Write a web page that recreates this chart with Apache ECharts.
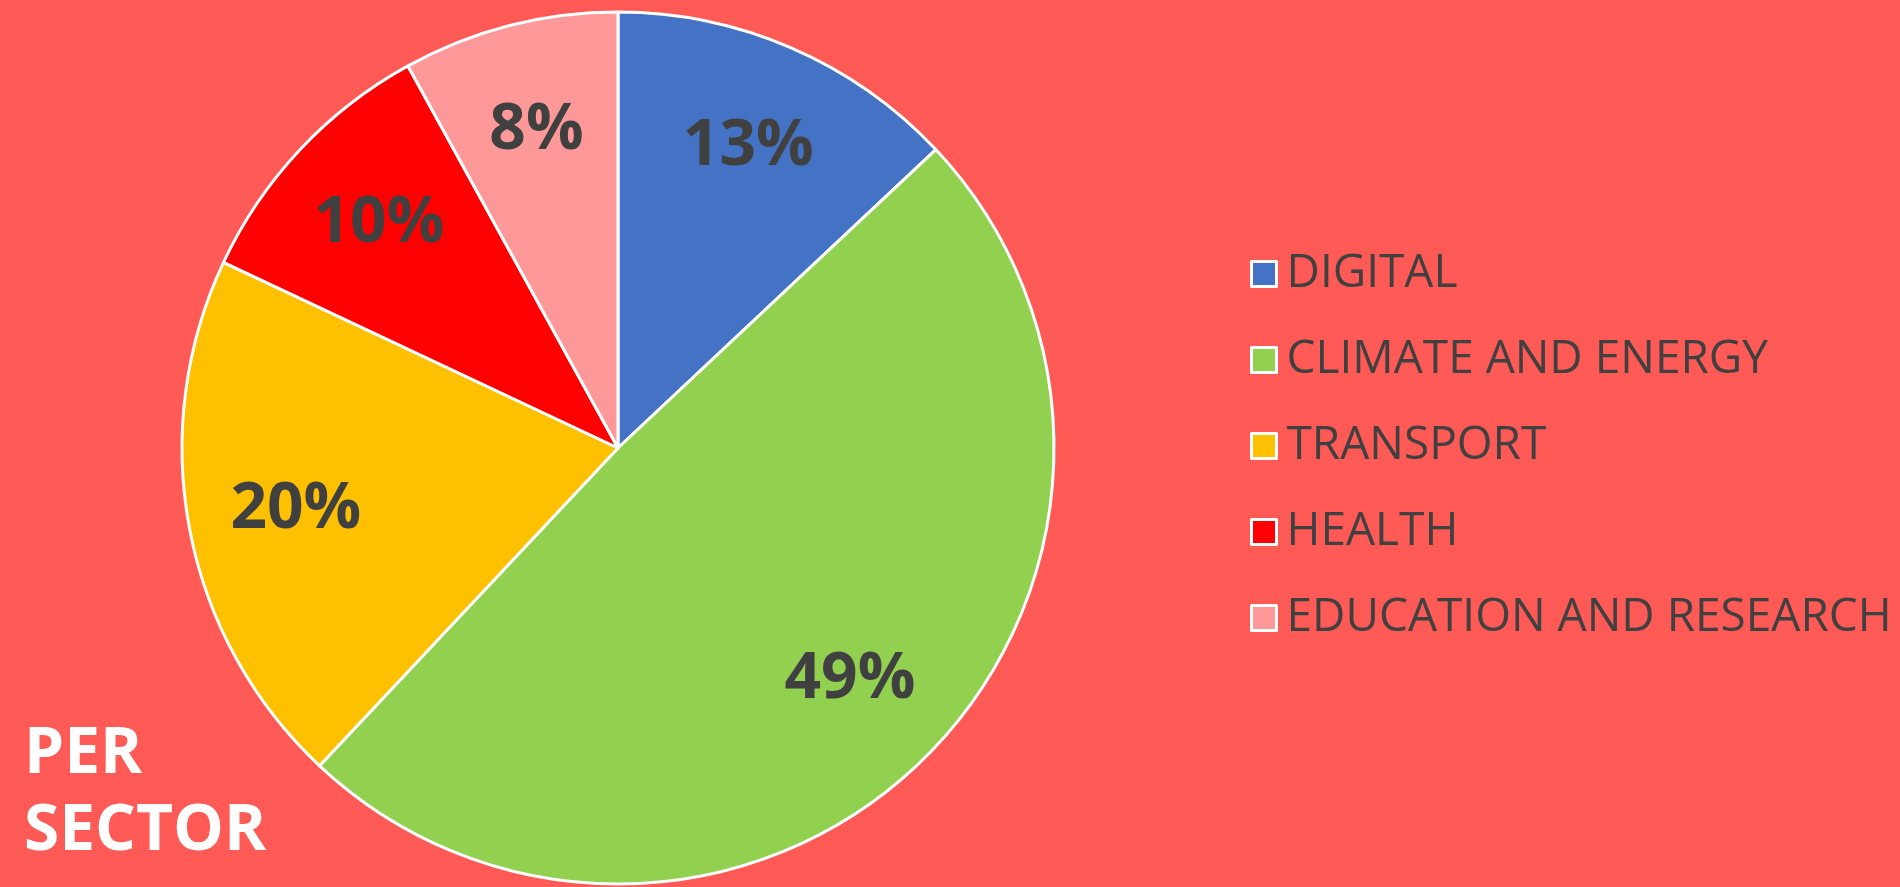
<!DOCTYPE html>
<html lang="en">
  <head>
    <meta charset="UTF-8" />
    <title>Per sector</title>
    <script src="https://cdn.jsdelivr.net/npm/echarts@6/dist/echarts.min.js"></script>
    <style>
      * { margin: 0; padding: 0; box-sizing: border-box; }
      body { overflow: hidden; background: #ff5a55; }
      #chart { width: 1900px; height: 887px; }
    </style>
  </head>
  <body>
    <div id="chart"></div>
    <script>
      // values
      const sectors = ["DIGITAL", "CLIMATE AND ENERGY", "TRANSPORT", "HEALTH", "EDUCATION AND RESEARCH"];
      const shares = [13, 49, 20, 10, 8];

      const pieData = sectors.map((name, i) => ({ name: name, value: shares[i] }));

      const myChart = echarts.init(document.getElementById("chart"));

      const option = {
        backgroundColor: "#ff5a55",
        color: ["#4472c4", "#92d050", "#ffc000", "#ff0000", "#ff9999"],
        animation: false,
        title: {
          text: "PER\nSECTOR",
          left: 19,
          top: 711,
          textStyle: {
            color: "#ffffff",
            fontFamily: "Open Sans",
            fontWeight: "bold",
            fontSize: 64,
            lineHeight: 77,
          },
        },
        legend: {
          data: sectors,
          orient: "vertical",
          left: 1245,
          top: 245,
          itemWidth: 25,
          itemHeight: 25,
          itemGap: 38,
          icon: "rect",
          itemStyle: { borderColor: "#ffffff", borderWidth: 3 },
          textStyle: {
            color: "#404040",
            fontFamily: "Open Sans",
            fontSize: 46,
            lineHeight: 48,
            padding: [0, 0, 0, 5],
          },
        },
        series: [
          {
            // the slices
            type: "pie",
            center: [618, 448],
            radius: [0, 436],
            startAngle: 90,
            data: pieData,
            label: { show: false },
            labelLine: { show: false },
            itemStyle: { borderColor: "#ffffff", borderWidth: 3 },
            silent: true,
          },
          {
            // clear ring that only carries the percent labels
            type: "pie",
            center: [618, 448],
            radius: [214, 436],
            startAngle: 90,
            data: pieData,
            itemStyle: { color: "rgba(0,0,0,0)", borderWidth: 0 },
            label: {
              show: true,
              position: "inside",
              formatter: "{c}%",
              color: "#404040",
              fontFamily: "Open Sans",
              fontWeight: "bold",
              fontSize: 64,
            },
            labelLine: { show: false },
            silent: true,
          },
        ],
      };

      myChart.setOption(option);
    </script>
  </body>
</html>
